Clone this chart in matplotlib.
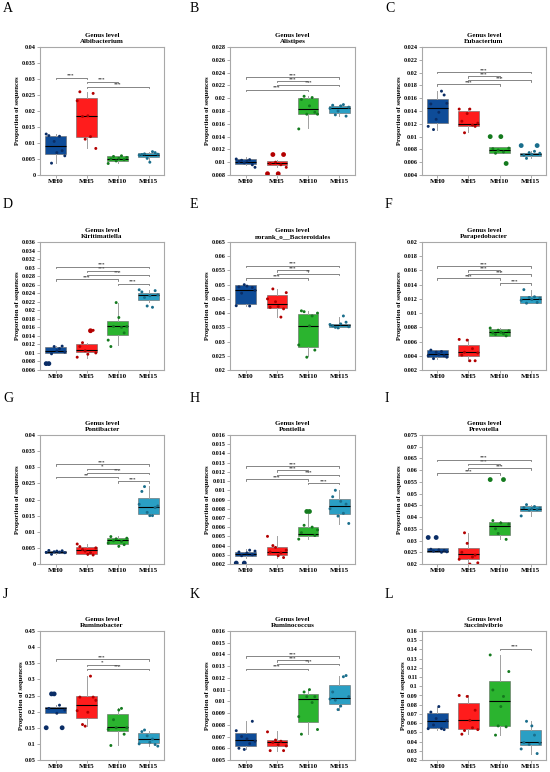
import numpy as np
import matplotlib
matplotlib.use("Agg")
import matplotlib.pyplot as plt
from matplotlib.ticker import FuncFormatter

# ---- data ----
groups = ["MH0", "MH5", "MH10", "MH15"]
letters = list("ABCDEFGHIJKL")
genera = ["Albibacterium", "Alistipes", "Eubacterium", "Kiritimatiella",
          "norank_o__Bacteroidales", "Parapedobacter", "Pontibacter", "Pontiella",
          "Prevotella", "Ruminobacter", "Ruminococcus", "Succinivibrio"]
# (ymin, ymax, tick step)
y_axes = [(0, 0.04, 0.005), (0.008, 0.028, 0.002), (0.004, 0.024, 0.002),
          (0.006, 0.036, 0.002), (0.02, 0.065, 0.005), (0.002, 0.02, 0.002),
          (0, 0.04, 0.005), (0.002, 0.016, 0.001), (0.02, 0.075, 0.005),
          (0.05, 0.45, 0.05), (0.005, 0.016, 0.001), (0.02, 0.16, 0.01)]

q1 = [[.0066, .0118, .0045, .0055], [.0097, .0095, .0175, .0177],
      [.0121, .0117, .0075, .0070], [.0100, .0102, .0141, .0223],
      [.0432, .0418, .0280, .0351], [.00385, .00394, .00685, .01146],
      [.0034, .0032, .0063, .0155], [.00284, .00295, .0050, .0074],
      [.0250, .0220, .0322, .0424], [.196, .181, .140, .103],
      [.00617, .00623, .0082, .0098], [.0552, .0534, .0565, .0365]]
med = [[.0092, .0185, .0051, .0063], [.0101, .0099, .0183, .0185],
       [.0144, .0120, .0079, .0073], [.0105, .0106, .0162, .0235],
       [.0482, .0433, .0356, .0357], [.0043, .0045, .0073, .0120],
       [.0038, .0042, .0073, .0176], [.0031, .0033, .0053, .0083],
       [.0257, .0244, .0361, .0435], [.2115, .2196, .153, .114],
       [.0067, .0065, .0102, .0103], [.0624, .0631, .0839, .0390]]
q3 = [[.0121, .0242, .0058, .0068], [.0105, .0102, .0200, .0188],
      [.0159, .0140, .0083, .0075], [.0115, .0122, .0174, .0241],
      [.0499, .0464, .0398, .0362], [.00477, .00555, .0077, .0124],
      [.00415, .0052, .0080, .0205], [.00328, .00386, .0060, .0091],
      [.0267, .0268, .0381, .0447], [.2156, .2495, .193, .134],
      [.00729, .00669, .0106, .0114], [.0713, .0821, .1061, .0523]]
wlo = [[.0037, .0085, .0036, .0042], [.0096, .0092, .0153, .0172],
       [.0111, .0107, .0074, .0066], [.0100, .0088, .0118, .0220],
       [.0425, .0386, .0248, .0348], [.0036, .0033, .0068, .0114],
       [.0030, .0028, .0053, .0150], [.0027, .0027, .0047, .0063],
       [.0250, .0200, .0305, .0405], [.196, .155, .095, .093],
       [.0059, .0058, .0072, .0093], [.053, .048, .047, .027]]
whi = [[.0129, .0260, .0060, .0072], [.0108, .0104, .0203, .0190],
       [.0171, .0144, .0083, .0078], [.0116, .0124, .0218, .0248],
       [.0500, .0485, .0408, .0388], [.0048, .0063, .0079, .0133],
       [.0042, .0062, .0087, .0241], [.0036, .0050, .0077, .0100],
       [.0270, .0333, .0385, .0453], [.222, .310, .210, .140],
       [.0083, .0075, .0110, .0122], [.078, .090, .134, .062]]

points = [
    [[.0128, .0123, .0037, .0105, .0070, .0121, .0076, .0060],
     [.0232, .0260, .0183, .0112, .0185, .0120, .0255, .0083],
     [.0036, .0050, .0058, .0044, .0052, .0060, .0048, .0055],
     [.0062, .0064, .0066, .0052, .0040, .0073, .0070, .0065]],
    [[.0105, .0101, .0103, .0099, .0102, .0104, .0096, .0092],
     [.0082, .0098, .0112, .0100, .0082, .0096, .0112, .0092],
     [.0152, .0198, .0203, .0175, .0188, .0201, .0178, .0175],
     [.0184, .0189, .0174, .0180, .0188, .0190, .0172, .0186]],
    [[.0116, .0151, .0111, .0127, .0138, .0171, .0165, .0152],
     [.0143, .0124, .0106, .0136, .0143, .0118, .0116, .0121],
     [.0100, .0081, .0074, .0079, .0100, .0076, .0058, .0082],
     [.0086, .0071, .0066, .0075, .0072, .0077, .0086, .0074]],
    [[.0075, .0075, .0098, .0115, .0105, .0110, .0116, .0102],
     [.0090, .0115, .0124, .0105, .0097, .0152, .0153, .0100],
     [.0130, .0115, .0162, .0218, .0183, .0160, .0147, .0162],
     [.0248, .0243, .0230, .0210, .0234, .0207, .0246, .0236]],
    [[.0426, .0492, .0470, .0500, .0495, .0425, .0490, .0480],
     [.0450, .0420, .0485, .0440, .0423, .0386, .0415, .0472],
     [.0288, .0408, .0405, .0245, .0355, .0390, .0270, .0400],
     [.0360, .0355, .0350, .0348, .0362, .0390, .0368, .0352]],
    [[.0040, .0048, .0036, .0045, .0042, .0046, .0040, .0038],
     [.0063, .0041, .0045, .0062, .0033, .0050, .0033, .0044],
     [.0079, .0072, .0070, .0076, .0073, .0071, .0068, .0075],
     [.0118, .0133, .0114, .0122, .0119, .0123, .0115, .0121]],
    [[.0036, .0042, .0030, .0038, .0040, .0037, .0041, .0035],
     [.0062, .0054, .0045, .0040, .0030, .0035, .0028, .0050],
     [.0065, .0085, .0072, .0078, .0055, .0070, .0060, .0080],
     [.0185, .0225, .0240, .0160, .0150, .0150, .0175, .0180]],
    [[.0021, .0033, .0029, .0021, .0032, .0035, .0030, .0034],
     [.0050, .0033, .0040, .0038, .0029, .0032, .0027, .0035],
     [.0047, .0054, .0062, .0077, .0077, .0060, .0051, .0057],
     [.0080, .0093, .0100, .0072, .0088, .0075, .0085, .0064]],
    [[.0313, .0263, .0255, .0313, .0260, .0250, .0258, .0252],
     [.0220, .0250, .0333, .0288, .0200, .0230, .0238, .0205],
     [.0560, .0385, .0350, .0330, .0375, .0560, .0305, .0370],
     [.0405, .0440, .0453, .0430, .0436, .0445, .0432, .0438]],
    [[.150, .210, .255, .255, .195, .220, .150, .205],
     [.203, .245, .160, .155, .198, .310, .245, .235],
     [.145, .095, .175, .150, .205, .210, .130, .150],
     [.100, .138, .143, .125, .105, .115, .098, .093]],
    [[.0075, .0060, .0070, .0059, .0068, .0064, .0083, .0066],
     [.0074, .0058, .0065, .0067, .0063, .0066, .0058, .0062],
     [.0087, .0072, .0108, .0104, .0110, .0099, .0104, .0076],
     [.0102, .0108, .0101, .0093, .0096, .0121, .0122, .0104]],
    [[.054, .072, .058, .065, .078, .054, .053, .063],
     [.090, .048, .052, .089, .063, .055, .074, .053],
     [.134, .096, .047, .057, .078, .089, .056, .116],
     [.032, .039, .062, .037, .057, .047, .027, .038]],
]
# outlying points drawn as larger dots: (panel, group, value)
big_points = [(1, 1, .0082), (1, 1, .0112), (2, 2, .0100), (2, 2, .0058),
              (2, 3, .0086), (3, 0, .0075), (3, 1, .0152), (7, 0, .0021),
              (7, 2, .0077), (8, 0, .0313), (8, 2, .0560), (9, 0, .255),
              (9, 0, .150)]

# significance brackets per panel: (group i, group j, height, label)
sig = [
    [(0, 1, .0304, "***"), (1, 2, .0291, "***"), (1, 3, .0276, "***")],
    [(0, 3, .0233, "***"), (1, 2, .0227, "***"), (1, 3, .0221, "***"), (0, 2, .0213, "***")],
    [(0, 3, .0201, "***"), (1, 2, .0194, "***"), (1, 3, .0188, "***"), (0, 2, .0182, "***")],
    [(0, 3, .0302, "***"), (1, 2, .0293, "***"), (1, 3, .0283, "***"), (0, 2, .0273, "***"),
     (2, 3, .0262, "***")],
    [(0, 3, .0567, "***"), (1, 2, .0551, "***"), (1, 3, .0538, "**"), (0, 2, .0522, "***")],
    [(0, 3, .01663, "***"), (1, 2, .01603, "***"), (1, 3, .01543, "***"), (0, 2, .01488, "***"),
     (2, 3, .01423, "***")],
    [(0, 3, .0309, "***"), (1, 2, .0295, "*"), (1, 3, .0283, "***"), (0, 2, .0270, "**"),
     (2, 3, .0257, "***")],
    [(0, 3, .0126, "***"), (1, 2, .0122, "***"), (1, 3, .0117, "***"), (0, 2, .0112, "***"),
     (2, 3, .0108, "***")],
    [(0, 3, .0644, "***"), (1, 2, .0627, "***"), (1, 3, .0608, "***"), (0, 2, .0587, "***")],
    [(0, 3, .362, "***"), (1, 2, .345, "*"), (1, 3, .333, "***")],
    [(0, 3, .01386, "***"), (1, 2, .0135, "***"), (1, 3, .0132, "***"), (0, 2, .0128, "***")],
    [(2, 3, .141, "***")],
]

# ---- style ----
box_colors = ["#0e4c98", "#ff1c1c", "#2bb42f", "#2a9fc4"]
dot_colors = ["#0a2d66", "#b30000", "#147a1e", "#1a6e8c"]
SERIF = "Liberation Serif"

W, H = 550, 772
# axes rectangles in pixels: left, right per column; top, bottom per row
col_lr = [(40, 164), (230, 355), (422, 546)]
row_tb = [(47, 175), (242, 370), (435, 564), (631, 760)]
letter_x = [3, 190, 385]
letter_y = [9, 204, 399, 595]

fig = plt.figure(figsize=(W / 100, H / 100), dpi=100)

for p in range(12):
    r, c = divmod(p, 3)
    l, rr = col_lr[c]
    t, b = row_tb[r]
    ax = fig.add_axes([l / W, 1 - b / H, (rr - l) / W, (b - t) / H])

    stats = []
    for g in range(4):
        stats.append(dict(med=med[p][g], q1=q1[p][g], q3=q3[p][g],
                          whislo=wlo[p][g], whishi=whi[p][g], fliers=[]))
    bp = ax.bxp(stats, positions=range(4), widths=0.66, patch_artist=True,
                showfliers=False, showcaps=False,
                boxprops=dict(linewidth=0.4, edgecolor="#666666"),
                medianprops=dict(color="black", linewidth=0.8),
                whiskerprops=dict(color="#a0a0a0", linewidth=0.7))
    for patch, col in zip(bp["boxes"], box_colors):
        patch.set_facecolor(col)

    for g in range(4):
        vals = points[p][g]
        offs = np.linspace(-0.3, 0.3, len(vals))
        bigs = [v for (pp, gg, v) in big_points if pp == p and gg == g]
        sizes = [12 if v in bigs else 4.5 for v in vals]
        ax.scatter(g + offs, vals, s=sizes, color=dot_colors[g], zorder=5,
                   linewidths=0)

    lo, hi, step = y_axes[p]
    tick = (hi - lo) * 0.012
    for i, j, y, lab in sig[p]:
        ax.plot([i, i, j, j], [y - tick, y, y, y - tick], color="#555555",
                lw=0.5, zorder=6)
        ax.text((i + j) / 2, y, lab, ha="center", va="bottom", fontsize=3.6,
                color="#333333", family=SERIF, fontweight="bold")

    ax.set_xlim(-0.5, 3.5)
    ax.set_ylim(lo, hi)
    ax.set_yticks(np.round(np.arange(lo, hi + step / 2, step), 4))
    ax.yaxis.set_major_formatter(FuncFormatter(lambda v, pos: "%g" % round(v, 4)))
    ax.set_xticks(range(4))
    ax.set_xticklabels(groups)
    for s in ax.spines.values():
        s.set_color("#a8a8a8")
        s.set_linewidth(0.8)
    ax.tick_params(axis="both", length=2, width=0.5, color="#888888", pad=1)
    for lab in ax.get_yticklabels():
        lab.set_fontsize(4.4)
        lab.set_family(SERIF)
        lab.set_fontweight("bold")
    for lab in ax.get_xticklabels():
        lab.set_fontsize(5)
        lab.set_family(SERIF)
        lab.set_fontweight("bold")
    ax.set_ylabel("Proportion of sequences", fontsize=4.8, family=SERIF,
                  fontweight="bold", labelpad=1)
    ax.set_title("Genus level\n" + genera[p], fontsize=5, family=SERIF,
                 fontweight="bold", pad=3, linespacing=1.3)

    fig.text(letter_x[c] / W, 1 - letter_y[r] / H, letters[p], fontsize=10,
             family=SERIF, ha="left", va="center")

fig.savefig("out.png", dpi=100)
